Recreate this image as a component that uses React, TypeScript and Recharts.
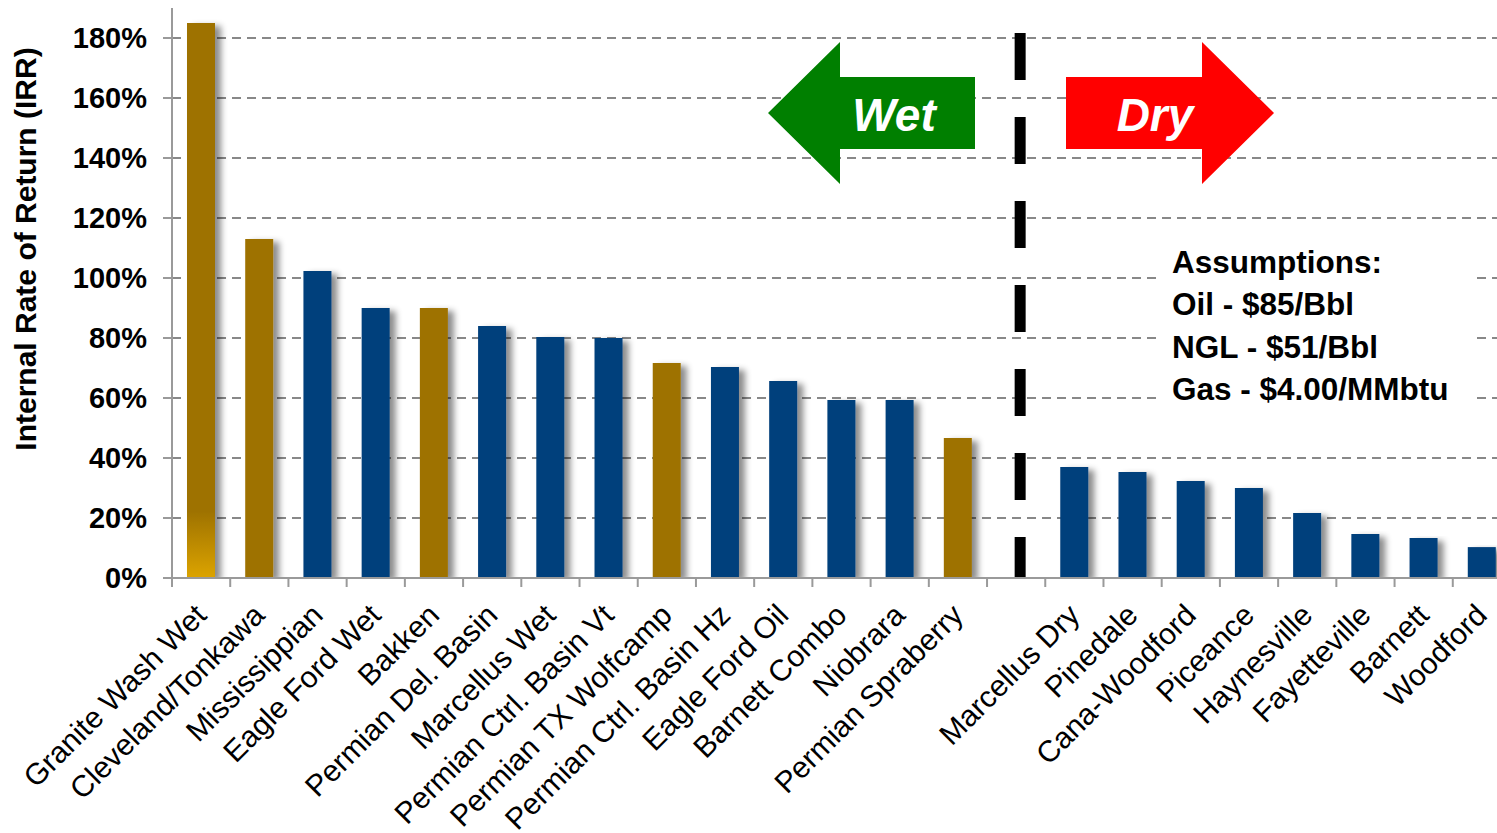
import React from 'react';
import { BarChart, Bar, XAxis, YAxis, CartesianGrid, Cell, ReferenceLine } from 'recharts';

const categories = [
  'Granite Wash Wet', 'Cleveland/Tonkawa', 'Mississippian', 'Eagle Ford Wet', 'Bakken',
  'Permian Del. Basin', 'Marcellus Wet', 'Permian Ctrl. Basin Vt', 'Permian TX Wolfcamp',
  'Permian Ctrl. Basin Hz', 'Eagle Ford Oil', 'Barnett Combo', 'Niobrara', 'Permian Spraberry',
  ' ',
  'Marcellus Dry', 'Pinedale', 'Cana-Woodford', 'Piceance', 'Haynesville', 'Fayetteville',
  'Barnett', 'Woodford',
];
const irrValues = [
  1.85, 1.13, 1.023, 0.90, 0.90, 0.84, 0.803, 0.80, 0.717, 0.703, 0.657, 0.593, 0.593, 0.467,
  null,
  0.37, 0.353, 0.323, 0.30, 0.217, 0.147, 0.133, 0.103,
];
const colorGroup = [
  'gradient', 'gold', 'blue', 'blue', 'gold', 'blue', 'blue', 'blue', 'gold', 'blue', 'blue', 'blue', 'blue', 'gold',
  'none',
  'blue', 'blue', 'blue', 'blue', 'blue', 'blue', 'blue', 'blue',
];
const yTicks = [0, 0.2, 0.4, 0.6, 0.8, 1.0, 1.2, 1.4, 1.6, 1.8];
const Y_MAX = 1.9;
const assumptions = ['Assumptions:', 'Oil - $85/Bbl', 'NGL - $51/Bbl', 'Gas - $4.00/MMbtu'];
const dividerCategory = ' ';
const dividerTop = 1.817;

const data = categories.map((name, i) => ({ name, irr: irrValues[i], group: colorGroup[i] }));

const FONT = '"Liberation Sans", Arial, sans-serif';
const GOLD = '#9E7200';
const BLUE = '#033F7B';
const AXIS = '#9a9a9a';

const CHART_W = 1511;
const CHART_H = 833;
const Y_AXIS_W = 172;
const BAND = (CHART_W - Y_AXIS_W) / categories.length;

const fillFor = (g: string) => (g === 'gradient' ? 'url(#graniteGrad)' : g === 'gold' ? GOLD : BLUE);

const XTick = (props: any) => {
  const { x, y, payload, index } = props;
  return (
    <g>
      {index === 0 && <line x1={x - BAND / 2} y1={y} x2={x - BAND / 2} y2={y + 9} stroke={AXIS} strokeWidth={2} />}
      <line x1={x + BAND / 2} y1={y} x2={x + BAND / 2} y2={y + 9} stroke={AXIS} strokeWidth={2} />
      <text
        x={x + 7}
        y={y + 39}
        transform={`rotate(-45 ${x + 7} ${y + 39})`}
        textAnchor="end"
        fontFamily={FONT}
        fontSize={30}
        fill="#000"
      >
        {payload.value}
      </text>
    </g>
  );
};

const YLabel = () => (
  <text
    x={36}
    y={249}
    transform="rotate(-90 36 249)"
    textAnchor="middle"
    fontFamily={FONT}
    fontWeight="bold"
    fontSize={30}
    fill="#000"
  >
    Internal Rate of Return (IRR)
  </text>
);

const DividerShape = (props: any) => {
  const { x1, y1, x2, y2 } = props;
  return <line x1={x1 + 4} y1={y1} x2={x2 + 4} y2={y2} stroke="#000" strokeWidth={11} strokeDasharray="47 37" />;
};

const gridCoords = (p: any) => {
  const top = p?.offset?.top ?? 8;
  const h = p?.offset?.height ?? 570;
  return yTicks.filter((t) => t > 0).map((t) => top + h * (1 - t / Y_MAX));
};

export default function App() {
  return (
    <div style={{ position: 'absolute', left: 0, top: 0, width: 1497, height: 833, overflow: 'hidden', background: '#fff' }}>
      <BarChart
        width={CHART_W}
        height={CHART_H}
        data={data}
        margin={{ top: 8, right: 0, left: 0, bottom: 0 }}
        barSize={28}
      >
        <defs>
          <linearGradient id="graniteGrad" x1="0" y1="0" x2="0" y2="1">
            <stop offset="0" stopColor={GOLD} />
            <stop offset="0.88" stopColor={GOLD} />
            <stop offset="1" stopColor="#DCA400" />
          </linearGradient>
          <filter id="barShadow" x="-30%" y="-5%" width="180%" height="115%">
            <feDropShadow dx="6" dy="3" stdDeviation="3" floodColor="#000" floodOpacity="0.45" />
          </filter>
        </defs>
        <CartesianGrid
          vertical={false}
          stroke="#888"
          strokeWidth={2}
          strokeDasharray="9 6"
          horizontalCoordinatesGenerator={gridCoords}
        />
        <XAxis
          dataKey="name"
          interval={0}
          height={255}
          tickLine={false}
          tickSize={0}
          tickMargin={0}
          axisLine={{ stroke: AXIS, strokeWidth: 2 }}
          tick={<XTick />}
        />
        <YAxis
          width={Y_AXIS_W}
          domain={[0, Y_MAX]}
          ticks={yTicks}
          allowDataOverflow
          tickFormatter={(v: number) => `${Math.round(v * 100)}%`}
          tickSize={9}
          tickMargin={16}
          tickLine={{ stroke: AXIS, strokeWidth: 2 }}
          axisLine={{ stroke: AXIS, strokeWidth: 2 }}
          tick={{ fontFamily: FONT, fontSize: 29, fontWeight: 'bold', fill: '#000' }}
          label={{ content: () => <YLabel /> }}
        />
        <ReferenceLine
          segment={[{ x: dividerCategory, y: dividerTop }, { x: dividerCategory, y: 0 }]}
          shape={<DividerShape />}
        />
        <Bar dataKey="irr" isAnimationActive={false}>
          {data.map((d, i) => (
            <Cell key={i} fill={fillFor(d.group)} filter="url(#barShadow)" />
          ))}
        </Bar>
      </BarChart>
      <svg
        width={1497}
        height={833}
        style={{ position: 'absolute', left: 0, top: 0, pointerEvents: 'none' }}
      >
        <polygon points="768,113 840,42 840,77 975,77 975,149 840,149 840,184" fill="#007F00" />
        <polygon points="1066,77 1202,77 1202,42 1274,113 1202,184 1202,149 1066,149" fill="#FF0000" />
        <text x={894} y={131} textAnchor="middle" fontFamily={FONT} fontWeight="bold" fontStyle="italic" fontSize={46} fill="#fff">Wet</text>
        <text x={1155} y={131} textAnchor="middle" fontFamily={FONT} fontWeight="bold" fontStyle="italic" fontSize={46} fill="#fff">Dry</text>
        <rect x={1156} y={232} width={320} height={186} fill="#fff" />
        {assumptions.map((t, i) => (
          <text key={i} x={1172} y={273 + i * 42.3} fontFamily={FONT} fontWeight="bold" fontSize={31.5} fill="#000">{t}</text>
        ))}
      </svg>
    </div>
  );
}
